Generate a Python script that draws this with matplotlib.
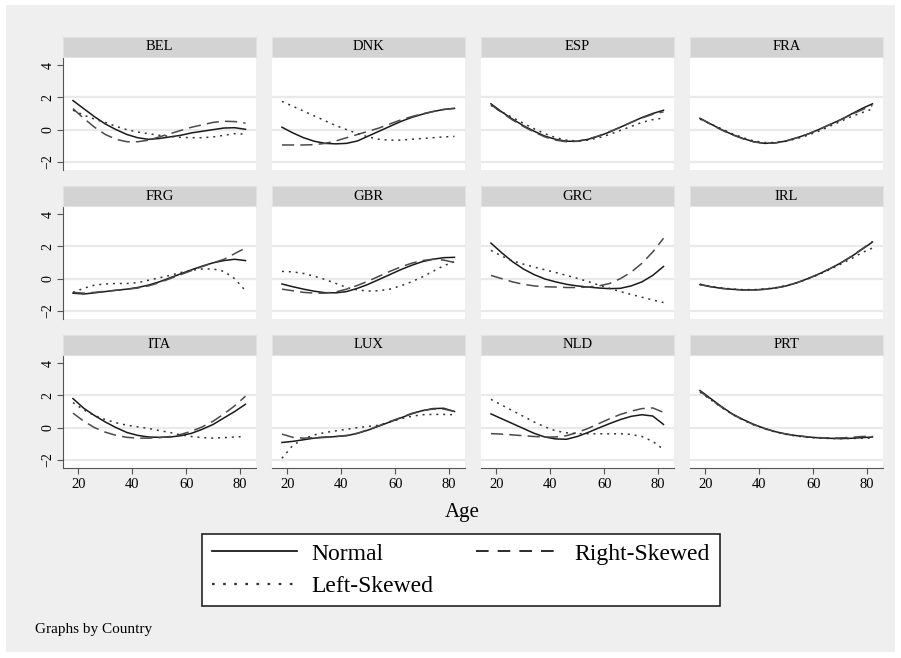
import numpy as np
import matplotlib
matplotlib.use("Agg")
import matplotlib.pyplot as plt
from matplotlib.patches import Rectangle
from matplotlib.lines import Line2D

plt.rcParams['font.family'] = ['Liberation Serif', 'DejaVu Serif']

# ---- data ----
ages = [18, 22, 26, 30, 34, 38, 42, 46, 50, 54, 58, 62, 66, 70, 74, 78, 82]
countries = ["BEL", "DNK", "ESP", "FRA", "FRG", "GBR", "GRC", "IRL", "ITA", "LUX", "NLD", "PRT"]

normal = {
    "BEL": [1.8, 1.3, 0.8, 0.35, 0.0, -0.3, -0.5, -0.6, -0.55, -0.45, -0.35, -0.2, -0.1, 0.0, 0.1, 0.12, 0.02],
    "DNK": [0.15, -0.2, -0.5, -0.72, -0.85, -0.88, -0.85, -0.7, -0.4, -0.1, 0.2, 0.5, 0.75, 0.95, 1.12, 1.25, 1.32],
    "ESP": [1.6, 1.1, 0.65, 0.25, -0.1, -0.4, -0.6, -0.72, -0.72, -0.6, -0.4, -0.15, 0.15, 0.45, 0.75, 1.0, 1.2],
    "FRA": [0.7, 0.35, 0.0, -0.3, -0.55, -0.75, -0.85, -0.82, -0.7, -0.5, -0.28, 0.0, 0.3, 0.6, 0.95, 1.3, 1.6],
    "FRG": [-0.9, -0.95, -0.88, -0.8, -0.72, -0.65, -0.55, -0.4, -0.2, 0.05, 0.3, 0.55, 0.78, 0.98, 1.12, 1.2, 1.12],
    "GBR": [-0.33, -0.5, -0.65, -0.78, -0.87, -0.88, -0.8, -0.6, -0.35, -0.05, 0.25, 0.55, 0.82, 1.05, 1.2, 1.3, 1.32],
    "GRC": [2.2, 1.6, 1.05, 0.6, 0.25, -0.02, -0.2, -0.35, -0.45, -0.52, -0.58, -0.62, -0.6, -0.45, -0.2, 0.2, 0.75],
    "IRL": [-0.37, -0.5, -0.6, -0.66, -0.7, -0.7, -0.66, -0.58, -0.45, -0.25, 0.0, 0.28, 0.6, 0.95, 1.35, 1.8, 2.27],
    "ITA": [1.8, 1.2, 0.75, 0.35, 0.0, -0.3, -0.48, -0.58, -0.6, -0.58, -0.5, -0.35, -0.1, 0.2, 0.6, 1.0, 1.45],
    "LUX": [-0.92, -0.85, -0.75, -0.65, -0.6, -0.55, -0.5, -0.35, -0.15, 0.1, 0.35, 0.6, 0.85, 1.05, 1.18, 1.2, 1.0],
    "NLD": [0.85, 0.55, 0.25, -0.05, -0.35, -0.58, -0.7, -0.72, -0.55, -0.3, -0.02, 0.25, 0.5, 0.7, 0.8, 0.72, 0.2],
    "PRT": [2.3, 1.8, 1.3, 0.85, 0.5, 0.2, -0.05, -0.25, -0.4, -0.5, -0.58, -0.63, -0.66, -0.68, -0.66, -0.62, -0.58],
}
right_skewed = {
    "BEL": [1.3, 0.7, 0.15, -0.3, -0.6, -0.75, -0.75, -0.65, -0.45, -0.25, -0.05, 0.15, 0.3, 0.45, 0.52, 0.5, 0.4],
    "DNK": [-0.95, -0.95, -0.95, -0.93, -0.85, -0.7, -0.5, -0.3, -0.1, 0.1, 0.35, 0.6, 0.8, 0.98, 1.12, 1.25, 1.32],
    "ESP": [1.55, 1.05, 0.6, 0.2, -0.15, -0.45, -0.65, -0.75, -0.72, -0.58, -0.38, -0.12, 0.15, 0.45, 0.72, 0.95, 1.1],
    "FRA": [0.7, 0.33, -0.02, -0.32, -0.57, -0.76, -0.85, -0.82, -0.7, -0.5, -0.28, 0.0, 0.3, 0.6, 0.92, 1.22, 1.5],
    "FRG": [-0.85, -0.9, -0.85, -0.78, -0.72, -0.66, -0.58, -0.45, -0.25, 0.0, 0.25, 0.5, 0.75, 0.98, 1.2, 1.55, 1.9],
    "GBR": [-0.65, -0.75, -0.85, -0.9, -0.9, -0.82, -0.65, -0.42, -0.15, 0.15, 0.45, 0.72, 0.95, 1.12, 1.2, 1.15, 1.0],
    "GRC": [0.2, 0.0, -0.2, -0.35, -0.45, -0.5, -0.52, -0.55, -0.55, -0.52, -0.45, -0.3, 0.0, 0.4, 0.95, 1.65, 2.5],
    "IRL": [-0.35, -0.5, -0.6, -0.66, -0.7, -0.7, -0.66, -0.58, -0.45, -0.25, 0.0, 0.28, 0.6, 0.95, 1.37, 1.83, 2.3],
    "ITA": [0.9, 0.4, 0.0, -0.28, -0.48, -0.6, -0.65, -0.65, -0.62, -0.55, -0.42, -0.22, 0.05, 0.4, 0.85, 1.35, 1.95],
    "LUX": [-0.4, -0.6, -0.65, -0.62, -0.58, -0.55, -0.48, -0.35, -0.12, 0.12, 0.38, 0.62, 0.88, 1.05, 1.15, 1.15, 1.0],
    "NLD": [-0.37, -0.4, -0.45, -0.5, -0.55, -0.58, -0.58, -0.5, -0.3, -0.05, 0.25, 0.55, 0.82, 1.02, 1.18, 1.22, 0.95],
    "PRT": [2.25, 1.75, 1.27, 0.83, 0.48, 0.18, -0.06, -0.26, -0.4, -0.5, -0.57, -0.62, -0.64, -0.64, -0.6, -0.55, -0.52],
}
left_skewed = {
    "BEL": [1.2, 0.9, 0.65, 0.45, 0.2, 0.0, -0.15, -0.25, -0.35, -0.42, -0.48, -0.5, -0.5, -0.45, -0.35, -0.25, -0.28],
    "DNK": [1.75, 1.45, 1.15, 0.85, 0.55, 0.25, 0.0, -0.25, -0.45, -0.6, -0.65, -0.65, -0.6, -0.55, -0.5, -0.45, -0.42],
    "ESP": [1.5, 1.1, 0.75, 0.4, 0.05, -0.25, -0.5, -0.65, -0.7, -0.65, -0.5, -0.3, -0.05, 0.2, 0.45, 0.62, 0.72],
    "FRA": [0.65, 0.35, 0.05, -0.25, -0.5, -0.7, -0.8, -0.8, -0.72, -0.55, -0.35, -0.1, 0.2, 0.5, 0.8, 1.05, 1.28],
    "FRG": [-0.85, -0.6, -0.4, -0.33, -0.3, -0.3, -0.25, -0.1, 0.05, 0.2, 0.38, 0.52, 0.6, 0.6, 0.45, 0.0, -0.75],
    "GBR": [0.45, 0.42, 0.32, 0.15, -0.05, -0.3, -0.55, -0.7, -0.77, -0.75, -0.65, -0.45, -0.2, 0.1, 0.45, 0.8, 1.05],
    "GRC": [1.75, 1.4, 1.1, 0.9, 0.72, 0.55, 0.38, 0.2, 0.02, -0.18, -0.4, -0.6, -0.8, -0.98, -1.15, -1.32, -1.48],
    "IRL": [-0.35, -0.48, -0.58, -0.64, -0.68, -0.68, -0.64, -0.56, -0.43, -0.25, -0.02, 0.25, 0.55, 0.88, 1.22, 1.6, 1.9],
    "ITA": [1.55, 1.1, 0.75, 0.5, 0.3, 0.15, 0.05, -0.05, -0.18, -0.3, -0.45, -0.55, -0.62, -0.65, -0.62, -0.58, -0.55],
    "LUX": [-1.9, -1.1, -0.7, -0.45, -0.3, -0.2, -0.1, 0.0, 0.08, 0.15, 0.35, 0.55, 0.7, 0.8, 0.82, 0.82, 0.8],
    "NLD": [1.75, 1.4, 1.05, 0.7, 0.35, 0.05, -0.2, -0.32, -0.37, -0.38, -0.38, -0.38, -0.38, -0.42, -0.55, -0.85, -1.35],
    "PRT": [2.2, 1.72, 1.25, 0.82, 0.47, 0.17, -0.07, -0.27, -0.42, -0.53, -0.6, -0.65, -0.67, -0.68, -0.67, -0.66, -0.65],
}

W, H = 901, 658
fig = plt.figure(figsize=(W / 100, H / 100), dpi=100)
fig.patch.set_facecolor("white")
# gray graph region (Stata style), drawn beneath the panels
fig.add_artist(Rectangle((6 / W, 1 - 652 / H), 889 / W, 647 / H,
                         transform=fig.transFigure, facecolor="#EFEFEF",
                         edgecolor="none", zorder=-10))


def box(x, y, w, h):
    return [x / W, 1 - (y + h) / H, w / W, h / H]


col_x = [63, 272, 481, 690]
row_y = [57, 206, 355]
pw, ph, sh = 193, 113, 20

for i, c in enumerate(countries):
    r, k = divmod(i, 4)
    ax = fig.add_axes(box(col_x[k], row_y[r], pw, ph))
    ax.set_facecolor("white")
    for yg in [-2, 0, 2]:
        ax.axhline(yg, color="#EAEAEA", lw=1.6, zorder=1)
    ax.plot(ages, normal[c], color="#1A1A1A", lw=1.1, zorder=3)
    ax.plot(ages, right_skewed[c], color="#4A4A4A", lw=1.1, dashes=(8, 4), zorder=3)
    ax.plot(ages, left_skewed[c], color="#333333", lw=1.1, dashes=(1.3, 3.2), zorder=3)
    ax.set_xlim(14.3, 85.9)
    ax.set_ylim(-2.5, 4.5)
    for s in ["top", "right"]:
        ax.spines[s].set_visible(False)
    ax.spines["left"].set_visible(k == 0)
    ax.spines["bottom"].set_visible(r == 2)
    ax.spines["left"].set_color("#555555")
    ax.spines["bottom"].set_color("#555555")
    if k == 0:
        ax.set_yticks([-2, 0, 2, 4])
        ax.tick_params(axis="y", length=4, color="#555555", labelsize=10, pad=2)
        for t in ax.get_yticklabels():
            t.set_rotation(90)
            t.set_va("center")
    else:
        ax.set_yticks([])
    if r == 2:
        ax.set_xticks([20, 40, 60, 80])
        ax.tick_params(axis="x", length=4, color="#555555", labelsize=10.5, pad=3)
    else:
        ax.set_xticks([])

    sx = fig.add_axes(box(col_x[k], row_y[r] - sh, pw, sh))
    sx.set_facecolor("#D3D3D3")
    sx.set_xticks([])
    sx.set_yticks([])
    for s in sx.spines.values():
        s.set_color("#E2E2E2")
    sx.text(0.5, 0.5, c, ha="center", va="center", fontsize=10.5, transform=sx.transAxes)

fig.text(462 / W, 1 - 513 / H, "Age", ha="center", va="center", fontsize=15)
fig.text(35 / W, 1 - 629 / H, "Graphs by Country", ha="left", va="center", fontsize=11)

handles = [
    Line2D([], [], color="#1A1A1A", lw=1.3),
    Line2D([], [], color="#333333", lw=1.6, dashes=(1.2, 3.8)),
    Line2D([], [], color="#1A1A1A", lw=1.3, dashes=(7, 5)),
]
labels = ["Normal", "Left-Skewed", "Right-Skewed"]
leg = fig.legend(handles, labels, ncol=2, loc="center", bbox_to_anchor=(461 / W, 1 - 570 / H),
                 fontsize=17, frameon=True, fancybox=False, handlelength=3.6,
                 handletextpad=0.6, columnspacing=1.8, labelspacing=0.45,
                 borderpad=0.4, borderaxespad=0, framealpha=1)
leg.get_frame().set_edgecolor("#222222")
leg.get_frame().set_linewidth(1.2)

fig.savefig("out.png", dpi=100, facecolor=fig.get_facecolor())
